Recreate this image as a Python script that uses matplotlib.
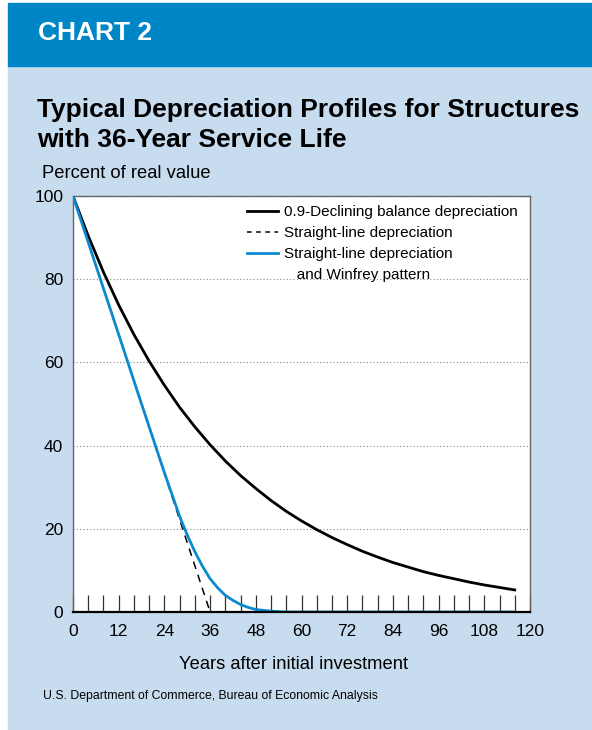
import matplotlib
matplotlib.use("Agg")
import matplotlib.pyplot as plt
from matplotlib.lines import Line2D
from matplotlib.patches import Rectangle

# ---------------------------------------------------------------------------
# Data
# ---------------------------------------------------------------------------
DB_YEARS = [0, 4, 8, 12, 16, 20, 24, 28, 32, 36, 40, 44, 48, 52, 56, 60, 64, 68,
            72, 76, 80, 84, 88, 92, 96, 100, 104, 108, 112, 116]
DB_VALUES = [100, 90.4, 81.7, 73.8, 66.7, 60.3, 54.5, 49.2, 44.5, 40.2, 36.3, 32.8,
             29.7, 26.8, 24.2, 21.9, 19.8, 17.9, 16.2, 14.6, 13.2, 11.9, 10.8, 9.7,
             8.8, 8.0, 7.2, 6.5, 5.9, 5.3]

SL_YEARS = [0, 36]
SL_VALUES = [100, 0]

WF_YEARS = [0, 6, 12, 18, 24, 28, 30, 32, 34, 36, 38, 40, 42, 44, 46, 48, 52, 56, 116]
WF_VALUES = [100, 83.3, 66.7, 50, 33.5, 23, 18.5, 14.5, 11, 8, 5.8, 4, 2.8, 1.8,
             1.1, 0.6, 0.2, 0, 0]

X_TICKS = list(range(0, 121, 12))
X_MINOR = list(range(4, 120, 4))
Y_TICKS = [0, 20, 40, 60, 80, 100]

LABELS = ["0.9-Declining balance depreciation",
          "Straight-line depreciation",
          "Straight-line depreciation",
          "   and Winfrey pattern"]

HEADER_BLUE = "#0085c7"
PANEL_BLUE = "#c8dcf0"
LINE_BLUE = "#0b8ad0"
FONT = "Liberation Sans"

W, H = 592, 730
fig = plt.figure(figsize=(W / 100, H / 100), dpi=100)
fig.patch.set_facecolor("white")

# background panels
fig.patches.append(Rectangle((8 / W, 0), 1 - 8 / W, 1 - 66 / H,
                             transform=fig.transFigure, color=PANEL_BLUE, zorder=-2))
fig.patches.append(Rectangle((8 / W, 1 - 66 / H), 1 - 8 / W, 63 / H,
                             transform=fig.transFigure, color=HEADER_BLUE, zorder=-2))

fig.text(38 / W, 1 - 40 / H, "CHART 2", color="white", fontsize=19,
         fontweight="bold", family=FONT, va="baseline")
fig.text(37 / W, 1 - 117 / H, "Typical Depreciation Profiles for Structures",
         fontsize=19, fontweight="bold", family=FONT, va="baseline")
fig.text(37 / W, 1 - 147 / H, "with 36-Year Service Life",
         fontsize=19, fontweight="bold", family=FONT, va="baseline")
fig.text(42 / W, 1 - 178 / H, "Percent of real value", fontsize=13.2,
         family=FONT, va="baseline")
fig.text(43 / W, 1 - 699 / H, "U.S. Department of Commerce, Bureau of Economic Analysis",
         fontsize=8.8, family=FONT, va="baseline")

ax = fig.add_axes([73 / W, 1 - 612 / H, 457 / W, 416 / H])
ax.set_facecolor("white")

ax.plot(DB_YEARS, DB_VALUES, color="black", lw=2.0, zorder=4)
ax.plot(SL_YEARS, SL_VALUES, color="black", lw=1.1, ls=(0, (5, 4)), zorder=3)
ax.plot(WF_YEARS, WF_VALUES, color=LINE_BLUE, lw=2.0, zorder=5)

ax.set_xlim(0, 120)
ax.set_ylim(0, 100)
ax.set_xticks(X_TICKS)
ax.set_xticks(X_MINOR, minor=True)
ax.set_yticks(Y_TICKS)
ax.tick_params(axis="x", which="both", direction="in", length=12.2, width=0.9,
               color="#333333", labelsize=12.5, pad=9)
ax.tick_params(axis="y", length=0, labelsize=12.5, pad=7)
for lab in ax.get_xticklabels() + ax.get_yticklabels():
    lab.set_family(FONT)

ax.grid(axis="y", ls=(0, (1, 2)), color="#888888", lw=0.8)
ax.set_axisbelow(True)

for side in ["top", "right", "left"]:
    ax.spines[side].set_color("#666666")
    ax.spines[side].set_linewidth(1.0)
ax.spines["bottom"].set_color("black")
ax.spines["bottom"].set_linewidth(1.6)
ax.spines["bottom"].set_zorder(6)

ax.set_xlabel("Years after initial investment", fontsize=13.2, family=FONT)
ax.xaxis.set_label_coords(0.4825, -0.105)

handles = [Line2D([], [], color="black", lw=2.0),
           Line2D([], [], color="black", lw=1.1, ls=(0, (3, 3))),
           Line2D([], [], color=LINE_BLUE, lw=2.0),
           Line2D([], [], color="none")]
leg = ax.legend(handles, LABELS, loc="upper left", bbox_to_anchor=(0.381, 0.978),
                frameon=False, handlelength=2.0, handletextpad=0.4, borderpad=0,
                labelspacing=0.45, borderaxespad=0, prop={"family": FONT, "size": 11})

fig.savefig("out.png", dpi=100)
